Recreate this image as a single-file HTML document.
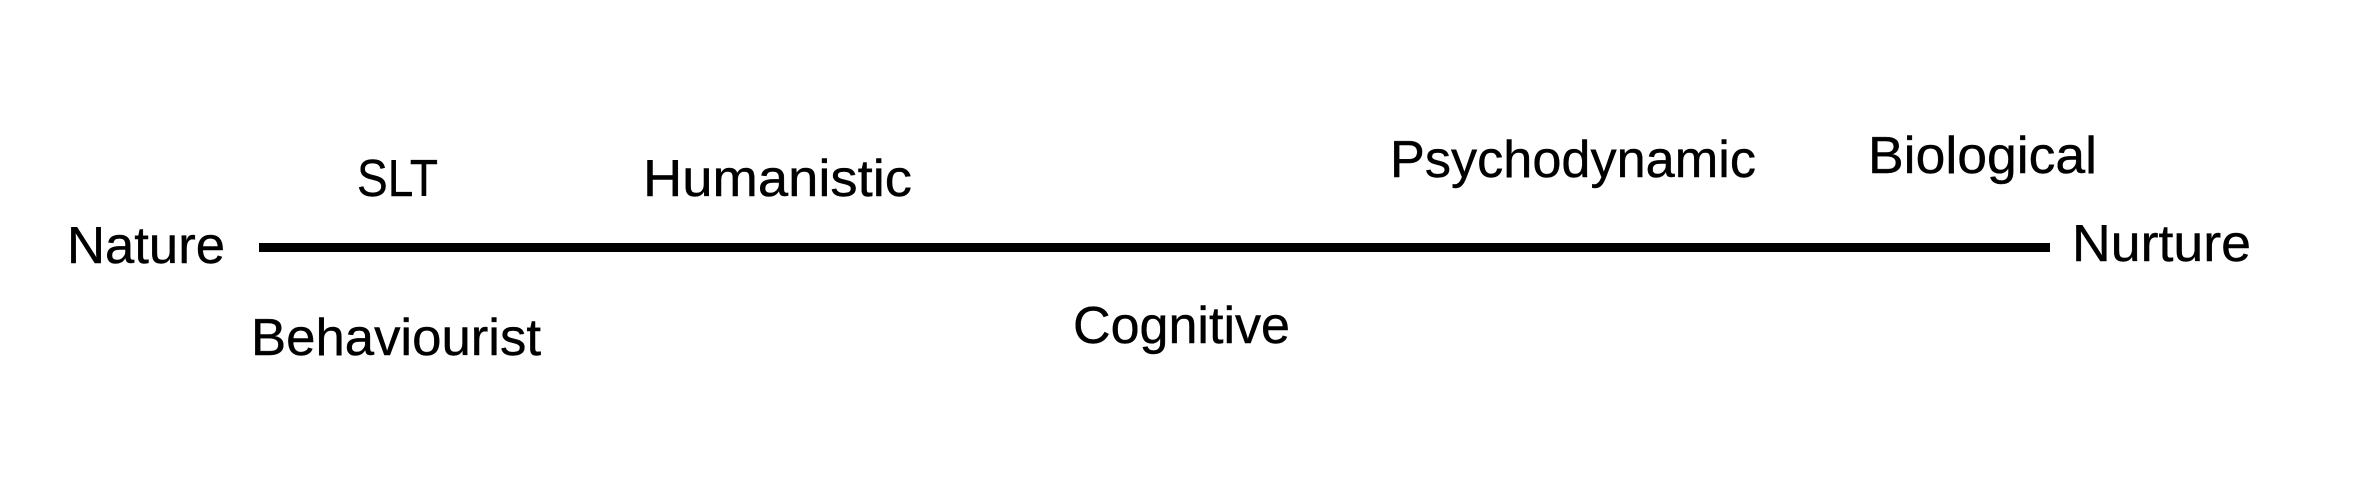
<!DOCTYPE html>
<html>
<head>
<meta charset="utf-8">
<style>
html,body{margin:0;padding:0;background:#fff;width:2354px;height:496px;overflow:hidden}
svg{display:block}
text{font-family:"Liberation Sans",sans-serif;font-size:52px;fill:#000;stroke:#000;stroke-width:.4px}
</style>
</head>
<body>
<svg width="2354" height="496" viewBox="0 0 2354 496" xmlns="http://www.w3.org/2000/svg">
<rect width="2354" height="496" fill="#fff"/>
<rect x="259" y="243" width="1791" height="9" fill="#000"/>
<text x="67" y="263" textLength="158" lengthAdjust="spacingAndGlyphs">Nature</text>
<text x="357" y="196" textLength="81" lengthAdjust="spacingAndGlyphs">SLT</text>
<text x="643" y="196" textLength="269" lengthAdjust="spacingAndGlyphs">Humanistic</text>
<text x="251" y="355" textLength="290" lengthAdjust="spacingAndGlyphs">Behaviourist</text>
<text x="1073" y="343" textLength="217" lengthAdjust="spacingAndGlyphs">Cognitive</text>
<text x="1390" y="177" textLength="366" lengthAdjust="spacingAndGlyphs">Psychodynamic</text>
<text x="1868" y="173" textLength="229" lengthAdjust="spacingAndGlyphs">Biological</text>
<text x="2072" y="261" textLength="179" lengthAdjust="spacingAndGlyphs">Nurture</text>
</svg>
</body>
</html>
